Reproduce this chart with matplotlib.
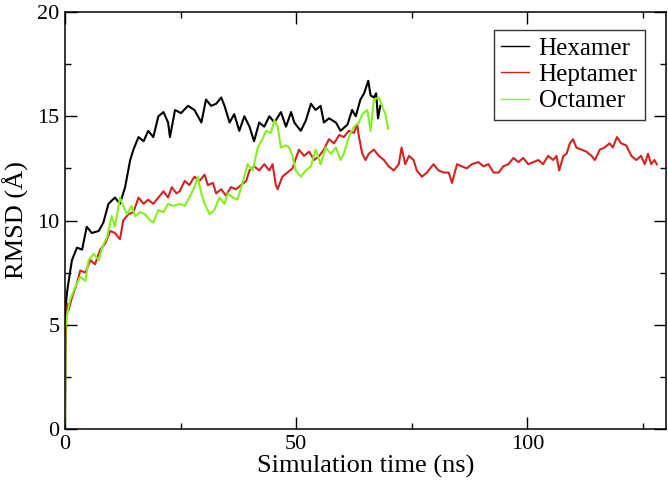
#!/usr/bin/env python3
import matplotlib
matplotlib.use("Agg")
import matplotlib.pyplot as plt
from matplotlib.ticker import MultipleLocator

# RMSD traces (time in ns, RMSD in Angstrom)
hex_t = [0, 0.1, 0.4, 0.8, 1.5, 2.6, 3.7, 4.7, 5.8, 7.3, 8.3, 9.4, 10.8, 11.9,
         13.0, 14.1, 14.8, 15.9, 17.0, 18.0, 19.1, 20.2, 21.3, 22.3, 22.7, 23.8,
         25.1, 26.6, 28.0, 29.5, 30.5, 31.6, 32.7, 33.8, 34.5, 35.6, 36.6, 37.7,
         38.8, 39.9, 40.9, 42.0, 43.1, 44.2, 45.3, 46.7, 47.8, 48.9, 49.6, 51.0,
         52.1, 53.2, 54.2, 55.3, 56.0, 57.1, 58.6, 59.6, 61.1, 62.1, 62.9, 63.9,
         64.7, 65.6, 66.1, 66.8, 67.3, 67.7, 68.2]
hex_v = [0.0, 5.7, 6.5, 7.1, 8.1, 8.7, 8.6, 9.7, 9.4, 9.5, 9.9, 10.8, 11.1, 10.8,
         11.6, 12.9, 13.4, 14.0, 13.8, 14.3, 14.0, 15.0, 15.2, 14.7, 14.0, 15.3,
         15.15, 15.5, 15.3, 14.7, 15.8, 15.5, 15.6, 15.9, 15.5, 14.7, 15.1, 14.3,
         15.0, 14.5, 13.8, 14.7, 14.5, 15.0, 14.7, 15.2, 14.5, 15.2, 14.7, 14.3,
         14.8, 15.6, 15.3, 15.5, 14.7, 14.9, 14.7, 14.3, 14.6, 15.3, 15.0, 15.8,
         16.1, 16.7, 16.0, 15.9, 16.1, 14.9, 15.5]

hep_t = [0, 0.1, 0.3, 0.6, 0.8, 1.5, 2.6, 3.3, 4.4, 5.5, 6.5, 7.6, 8.7, 9.8, 10.8,
         11.9, 12.6, 13.7, 14.8, 15.9, 17.0, 18.0, 19.1, 20.2, 21.3, 22.3, 23.1,
         24.1, 24.8, 25.9, 26.9, 28.0, 29.1, 30.2, 30.9, 32.0, 32.7, 33.8, 34.8,
         35.9, 37.0, 38.1, 39.2, 39.9, 40.9, 42.0, 43.1, 44.2, 44.9, 45.6, 46.0,
         47.0, 48.1, 49.2, 50.6, 51.7, 52.8, 53.9, 55.0, 56.0, 57.1, 58.2, 59.3,
         60.3, 61.4, 62.5, 63.2, 63.6, 64.3, 65.0, 65.7, 66.8, 67.9, 69.0, 70.0,
         71.1, 72.2, 72.8, 73.6, 74.4, 75.4, 76.1, 77.2, 78.3, 79.7, 80.8, 81.9,
         83.0, 83.7, 84.8, 85.8, 86.9, 88.0, 89.4, 90.5, 91.6, 92.7, 93.8, 94.8,
         95.9, 97.0, 98.1, 99.1, 100.2, 101.3, 102.4, 103.4, 104.5, 105.6, 106.3,
         106.9, 107.8, 108.5, 109.2, 109.9, 110.6, 111.7, 112.8, 113.9, 114.6,
         115.7, 116.7, 117.8, 118.5, 119.4, 120.3, 121.4, 122.5, 123.6, 124.6,
         125.4, 126.1, 126.8, 127.5, 128.0]
hep_v = [0.5, 3.5, 5.5, 6.0, 5.7, 6.3, 7.0, 7.6, 7.5, 8.1, 7.9, 8.6, 8.9, 9.5, 9.4,
         9.1, 10.0, 10.3, 10.4, 11.1, 10.8, 11.0, 10.8, 11.1, 11.4, 11.1, 11.6,
         11.3, 11.4, 11.9, 11.7, 12.1, 11.9, 12.2, 11.7, 11.8, 11.3, 11.5, 11.2,
         11.6, 11.5, 11.7, 11.9, 12.4, 12.6, 12.4, 12.7, 12.4, 12.7, 11.7, 11.5,
         12.1, 12.3, 12.5, 13.4, 13.1, 13.3, 12.9, 13.1, 13.4, 13.9, 13.7, 14.1,
         14.0, 14.3, 14.2, 14.6, 14.0, 13.2, 12.9, 13.2, 13.4, 13.1, 12.9, 12.6,
         12.4, 12.7, 13.5, 12.7, 13.1, 12.9, 12.4, 12.1, 12.3, 12.7, 12.4, 12.3,
         12.3, 11.8, 12.7, 12.6, 12.5, 12.7, 12.8, 12.6, 12.7, 12.3, 12.3, 12.6,
         12.7, 13.0, 12.8, 13.0, 12.7, 12.8, 12.9, 12.7, 13.1, 12.9, 13.1,
         12.4, 13.1, 13.2, 13.7, 13.9, 13.5, 13.4, 13.3, 13.1, 12.9,
         13.4, 13.5, 13.7, 13.5, 14.0, 13.7, 13.6, 13.1, 12.9, 13.1,
         12.7, 13.2, 12.7, 12.9, 12.7]

oct_t = [0, 0.1, 0.4, 1.1, 2.2, 3.3, 4.4, 5.1, 6.2, 7.3, 8.0, 9.1, 10.1, 10.8,
         11.9, 12.6, 13.4, 14.4, 15.2, 16.2, 17.3, 18.4, 19.1, 20.2, 21.3, 22.3,
         23.4, 24.8, 25.9, 26.9, 28.0, 28.7, 29.5, 30.2, 31.3, 32.3, 33.4, 34.5,
         35.2, 36.3, 37.3, 38.4, 39.5, 40.6, 41.7, 42.7, 43.5, 44.5, 45.3, 46.0,
         46.7, 47.8, 48.5, 49.2, 49.9, 51.0, 52.1, 53.2, 54.2, 55.3, 56.4, 57.5,
         58.6, 59.6, 60.3, 61.4, 62.5, 63.6, 64.3, 65.4, 66.1, 66.8, 67.9, 68.6,
         69.3, 69.9]
oct_v = [0.3, 4.9, 5.4, 6.2, 6.8, 7.3, 7.1, 8.1, 8.4, 8.1, 8.7, 9.2, 10.2, 9.7,
         11.1, 10.7, 10.3, 10.7, 10.2, 10.4, 10.3, 10.0, 9.9, 10.5, 10.4, 10.8,
         10.7, 10.8, 10.7, 11.1, 11.6, 12.1, 11.3, 10.8, 10.3, 10.5, 11.1, 10.8,
         11.3, 11.1, 11.0, 11.8, 12.7, 12.4, 13.5, 13.9, 14.3, 14.2, 14.8, 14.5,
         13.5, 13.6, 13.5, 13.1, 12.4, 12.1, 12.4, 12.6, 13.4, 12.7, 13.5, 13.2,
         13.5, 12.9, 13.2, 14.0, 14.5, 14.7, 15.1, 15.3, 14.3, 15.8, 15.9, 15.5,
         15.1, 14.4]

labels = ["Hexamer", "Heptamer", "Octamer"]
colors = ["black", "#d42222", "#84f020"]

plt.rcParams["font.family"] = ["Liberation Serif", "DejaVu Serif"]

fig = plt.figure(figsize=(6.68, 4.83), dpi=100)
ax = fig.add_axes([65 / 668, 54 / 483, 601 / 668, 417 / 483])

for t, v, lab, c in zip([hex_t, hep_t, oct_t], [hex_v, hep_v, oct_v], labels, colors):
    ax.plot(t, v, color=c, lw=1.5, label=lab)

ax.set_xlim(0, 130)
ax.set_ylim(0, 20)
ax.xaxis.set_major_locator(MultipleLocator(50))
ax.xaxis.set_minor_locator(MultipleLocator(25))
ax.yaxis.set_major_locator(MultipleLocator(5))
ax.yaxis.set_minor_locator(MultipleLocator(2.5))
ax.tick_params(which="both", direction="in", top=True, right=True, width=1.0,
               labelsize=16, pad=4)
ax.tick_params(which="major", length=8.5)
ax.tick_params(which="minor", length=4.3)
for s in ax.spines.values():
    s.set_linewidth(1.1)

ax.set_xlabel("Simulation time (ns)", fontsize=19, labelpad=1)
ax.set_ylabel("RMSD (Å)", fontsize=19, labelpad=6)

leg = ax.legend(loc="upper right", bbox_to_anchor=(0.965, 0.957), fontsize=18,
                frameon=True, fancybox=False, handlelength=1.1, handletextpad=0.4,
                labelspacing=0.15, borderpad=0.3, borderaxespad=0)
leg.get_frame().set_edgecolor("black")
leg.get_frame().set_linewidth(1.0)
for line in leg.get_lines():
    line.set_linewidth(1.0)

fig.savefig("out.png", dpi=100)
